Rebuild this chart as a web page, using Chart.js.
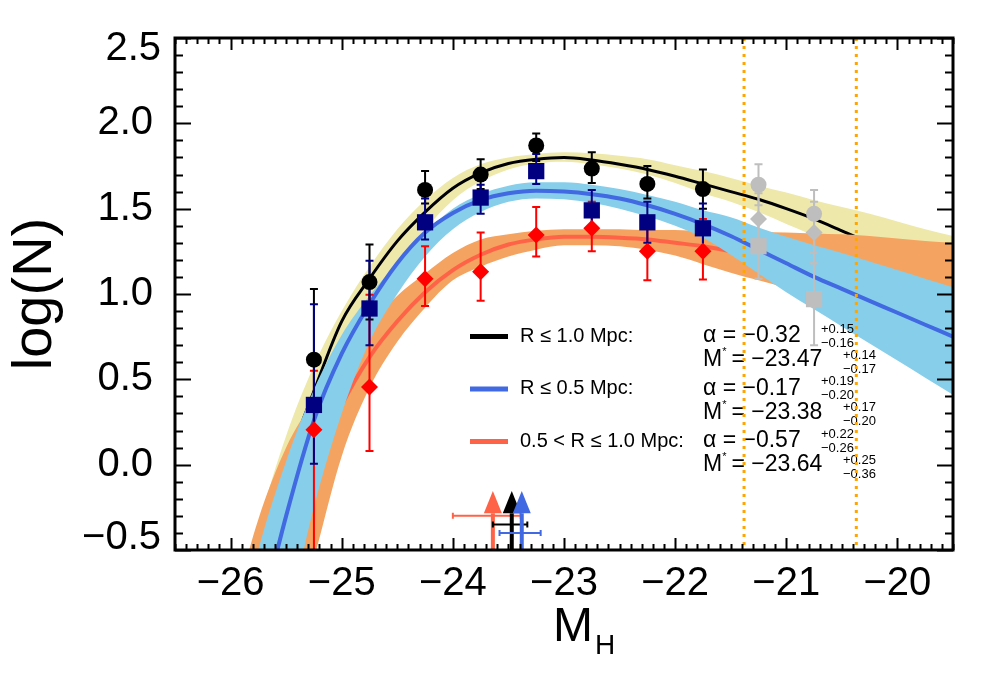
<!DOCTYPE html>
<html>
<head>
<meta charset="utf-8">
<script src="https://cdn.jsdelivr.net/npm/chart.js@4.4.1/dist/chart.umd.min.js"></script>
<style>
  html, body { margin: 0; padding: 0; background: #fff; }
  #wrap { width: 990px; height: 673px; }
</style>
</head>
<body>
<div id="wrap"><canvas id="lf"></canvas></div>
<script>
const FONT = '"Liberation Sans", Helvetica, Arial, sans-serif';

// axis ticks
const xTicks = [-26, -25, -24, -23, -22, -21, -20];
const yTicks = [-0.5, 0.0, 0.5, 1.0, 1.5, 2.0, 2.5];

// binned counts, log(N) with error bar ends
const bins = [-25.25, -24.75, -24.25, -23.75, -23.25, -22.75, -22.25, -21.75];
const allN = [0.615, 1.07, 1.61, 1.70, 1.87, 1.735, 1.645, 1.615];
const allLo = [0.20, 0.85, 1.53, 1.615, 1.78, 1.65, 1.56, 1.50];
const allHi = [1.03, 1.29, 1.72, 1.79, 1.94, 1.83, 1.75, 1.73];
const innerN = [0.35, 0.915, 1.42, 1.565, 1.72, 1.49, 1.42, 1.385];
const innerLo = [0.005, 0.70, 1.32, 1.47, 1.645, 1.38, 1.30, 1.235];
const innerHi = [0.94, 1.195, 1.56, 1.64, 1.82, 1.61, 1.54, 1.53];
const outerN = [0.205, 0.455, 1.09, 1.13, 1.345, 1.385, 1.25, 1.25];
const outerLo = [-0.7, 0.08, 0.93, 0.96, 1.22, 1.25, 1.08, 1.085];
const outerHi = [0.55, 0.995, 1.28, 1.36, 1.51, 1.54, 1.43, 1.44];

// bins fainter than the completeness limit (grey)
const faintBins = [-21.25, -20.75];
const faintAllN = [1.64, 1.47];
const faintAllLo = [1.52, 1.24];
const faintAllHi = [1.76, 1.61];
const faintInnerN = [1.28, 0.97];
const faintInnerLo = [1.09, 0.70];
const faintInnerHi = [1.45, 1.18];
const faintOuterN = [1.44, 1.36];
const faintOuterLo = [1.30, 1.18];
const faintOuterHi = [1.59, 1.54];

// fitted curves and their uncertainty bands, read along M
const fitM = [-26.0, -25.75, -25.5, -25.25, -25.0, -24.75, -24.5, -24.25, -24.0,
  -23.75, -23.5, -23.25, -23.0, -22.75, -22.5, -22.25, -22.0, -21.75, -21.5,
  -21.25, -21.0, -20.75, -20.5, -20.25, -20.0, -19.75, -19.5];
const allFit = [-1.2, -0.65, -0.02, 0.43, 0.84, 1.09, 1.31, 1.48, 1.62, 1.71, 1.765,
  1.79, 1.80, 1.785, 1.76, 1.73, 1.69, 1.645, 1.60, 1.555, 1.50, 1.44, 1.37, 1.30,
  1.23, 1.17, 1.10];
const allFitHi = [-1.0, -0.36, 0.17, 0.58, 0.90, 1.16, 1.38, 1.55, 1.68, 1.76, 1.80,
  1.82, 1.83, 1.825, 1.81, 1.79, 1.755, 1.72, 1.68, 1.635, 1.595, 1.55, 1.51, 1.47,
  1.425, 1.38, 1.34];
const allFitLo = [-1.6, -0.95, -0.38, 0.12, 0.55, 0.90, 1.18, 1.38, 1.55, 1.66, 1.73,
  1.765, 1.775, 1.76, 1.735, 1.70, 1.65, 1.59, 1.54, 1.48, 1.41, 1.34, 1.26, 1.18,
  1.10, 1.02, 0.94];
const innerFit = [-1.6, -0.95, -0.30, 0.26, 0.65, 0.94, 1.18, 1.36, 1.475, 1.55, 1.59,
  1.605, 1.60, 1.585, 1.56, 1.52, 1.47, 1.41, 1.34, 1.26, 1.18, 1.10, 1.03, 0.96,
  0.89, 0.82, 0.75];
const innerFitHi = [-1.2, -0.50, 0.02, 0.44, 0.76, 0.99, 1.18, 1.36, 1.50, 1.585, 1.635,
  1.655, 1.655, 1.64, 1.615, 1.58, 1.54, 1.49, 1.45, 1.39, 1.335, 1.285, 1.24, 1.19,
  1.14, 1.09, 1.04];
const innerFitLo = [-2.2, -1.6, -0.95, -0.25, 0.30, 0.72, 1.00, 1.22, 1.38, 1.48, 1.54,
  1.56, 1.555, 1.535, 1.50, 1.455, 1.40, 1.33, 1.23, 1.12, 1.01, 0.91, 0.81, 0.71,
  0.61, 0.51, 0.41];
const outerFit = [-1.6, -1.0, -0.45, 0.0, 0.35, 0.63, 0.84, 1.01, 1.14, 1.23, 1.29,
  1.32, 1.335, 1.335, 1.33, 1.32, 1.30, 1.28, 1.25, 1.21, 1.17, 1.13, 1.10, 1.06,
  1.03, 0.99, 0.96];
const outerFitHi = [-0.9, -0.32, 0.10, 0.38, 0.62, 0.82, 0.99, 1.12, 1.24, 1.32, 1.35,
  1.37, 1.38, 1.38, 1.38, 1.375, 1.375, 1.37, 1.37, 1.365, 1.36, 1.355, 1.35, 1.34,
  1.325, 1.31, 1.30];
const outerFitLo = [-2.6, -1.8, -1.1, -0.55, 0.05, 0.45, 0.72, 0.92, 1.08, 1.16, 1.22,
  1.26, 1.285, 1.285, 1.28, 1.26, 1.225, 1.175, 1.125, 1.08, 1.035, 0.98, 0.93, 0.88,
  0.84, 0.80, 0.75];

// fit parameters: R<=1.0, R<=0.5, 0.5<R<=1.0
const fitNames = ['R \u2264 1.0 Mpc:', 'R \u2264 0.5 Mpc:', '0.5 < R \u2264 1.0 Mpc:'];
const fitColors = ['#000000', '#4169E1', '#FF6347'];
const alpha = ['\u22120.32', '\u22120.17', '\u22120.57'];
const alphaUp = ['+0.15', '+0.19', '+0.22'];
const alphaDn = ['\u22120.16', '\u22120.20', '\u22120.26'];
const mStar = [-23.47, -23.38, -23.64];
const mStarUp = [0.14, 0.17, 0.25];
const mStarDn = [0.17, 0.20, 0.36];
const arrowBarY = [-0.35, -0.40, -0.30];

// completeness limits
const limitM = [-21.38, -20.37];

const minus = s => String(s).replace('-', '\u2212');
const curve = vals => fitM.map((m, i) => ({ x: m, y: vals[i] }));
const pts = (ms, vals) => ms.map((m, i) => ({ x: m, y: vals[i] }));

function edge(vals, order, fill, color) {
  return {
    data: curve(vals), order: order,
    borderColor: 'transparent', borderWidth: 0, pointRadius: 0,
    fill: fill ? '-1' : false, backgroundColor: color || 'transparent',
    cubicInterpolationMode: 'monotone'
  };
}
function fitLine(vals, order, color, width) {
  return {
    data: curve(vals), order: order, borderColor: color, borderWidth: width,
    pointRadius: 0, fill: false, cubicInterpolationMode: 'monotone'
  };
}
function marks(ms, vals, order, color, style, r) {
  return {
    data: pts(ms, vals), order: order, showLine: false, pointStyle: style,
    pointRadius: r, backgroundColor: color, borderColor: color,
    pointBackgroundColor: color, pointBorderColor: color, pointBorderWidth: 0
  };
}

const datasets = [
  edge(allFitLo, 20), edge(allFitHi, 19, true, '#EEE8AA'),
  fitLine(allFit, 18, '#000000', 3),
  edge(outerFitLo, 17), edge(outerFitHi, 16, true, '#F4A460'),
  fitLine(outerFit, 15, '#FF6347', 4),
  edge(innerFitLo, 14), edge(innerFitHi, 13, true, '#87CEEB'),
  fitLine(innerFit, 12, '#4169E1', 4),
  marks(faintBins, faintAllN, 11, '#BEBEBE', 'circle', 8),
  marks(faintBins, faintOuterN, 10, '#BEBEBE', 'rectRot', 8.5),
  marks(faintBins, faintInnerN, 9, '#BEBEBE', 'rect', 11.5),
  marks(bins, allN, 8, '#000000', 'circle', 8),
  marks(bins, innerN, 7, '#000080', 'rect', 11.5),
  marks(bins, outerN, 6, '#FF0000', 'rectRot', 8.5)
];

function errBars(ctx, x, y, ms, lo, hi, color) {
  ctx.strokeStyle = color;
  ctx.lineWidth = 2;
  ms.forEach((m, i) => {
    const px = x.getPixelForValue(m);
    const a = y.getPixelForValue(lo[i]);
    const b = y.getPixelForValue(hi[i]);
    ctx.beginPath();
    ctx.moveTo(px, a); ctx.lineTo(px, b);
    ctx.moveTo(px - 4, a); ctx.lineTo(px + 4, a);
    ctx.moveTo(px - 4, b); ctx.lineTo(px + 4, b);
    ctx.stroke();
  });
}

const extras = {
  id: 'extras',
  afterDatasetDraw(chart, args) {
    if (args.index !== 8) return;
    const { ctx, chartArea: a, scales: { x, y } } = chart;
    ctx.save();
    ctx.beginPath();
    ctx.rect(a.left, a.top, a.right - a.left, a.bottom - a.top);
    ctx.clip();
    errBars(ctx, x, y, faintBins, faintAllLo, faintAllHi, '#BEBEBE');
    errBars(ctx, x, y, faintBins, faintOuterLo, faintOuterHi, '#BEBEBE');
    errBars(ctx, x, y, faintBins, faintInnerLo, faintInnerHi, '#BEBEBE');
    errBars(ctx, x, y, bins, outerLo, outerHi, '#FF0000');
    errBars(ctx, x, y, bins, allLo, allHi, '#000000');
    errBars(ctx, x, y, bins, innerLo, innerHi, '#000080');
    ctx.restore();
  },
  afterDatasetsDraw(chart) {
    const { ctx, chartArea: a, scales: { x, y } } = chart;
    ctx.save();

    // legend + fit parameters
    ctx.textBaseline = 'middle';
    for (let i = 0; i < 3; i++) {
      const ly = 336 + i * 52.5;
      ctx.fillStyle = fitColors[i];
      ctx.fillRect(470, ly - 2, 38, 5);
      ctx.fillStyle = '#000';
      ctx.font = '20px ' + FONT;
      ctx.fillText(fitNames[i], 520, ly);
      ctx.font = '23px ' + FONT;
      ctx.fillText('\u03b1 = ' + alpha[i], 703, ly);
      const my = ly + 24;
      ctx.fillText('M', 703, my);
      const mw = ctx.measureText('M').width;
      ctx.fillText(' = ' + minus(mStar[i].toFixed(2)), 703 + mw + 3, my);
      ctx.font = '11px ' + FONT;
      ctx.fillText('*', 703 + mw, my - 8);
      ctx.font = '13px ' + FONT;
      ctx.fillText(alphaUp[i], 821, ly - 7);
      ctx.fillText(alphaDn[i], 821, ly + 7);
      ctx.fillText('+' + mStarUp[i].toFixed(2), 843, my - 5);
      ctx.fillText('\u2212' + mStarDn[i].toFixed(2), 843, my + 9);
    }

    // M* arrows with their errors
    [2, 0, 1].forEach(i => {
      const px = x.getPixelForValue(mStar[i]);
      const base = y.getPixelForValue(-0.5);
      const tip = y.getPixelForValue(-0.155);
      const neck = y.getPixelForValue(-0.285);
      ctx.fillStyle = fitColors[i];
      ctx.fillRect(px - 2, neck, 4, base - neck);
      ctx.beginPath();
      ctx.moveTo(px - 9, neck); ctx.lineTo(px + 9, neck); ctx.lineTo(px, tip);
      ctx.closePath();
      ctx.fill();
      const by = y.getPixelForValue(arrowBarY[i]);
      const l = x.getPixelForValue(mStar[i] - mStarDn[i]);
      const r = x.getPixelForValue(mStar[i] + mStarUp[i]);
      ctx.strokeStyle = fitColors[i];
      ctx.lineWidth = 2;
      ctx.beginPath();
      ctx.moveTo(l, by); ctx.lineTo(r, by);
      ctx.moveTo(l, by - 3); ctx.lineTo(l, by + 3);
      ctx.moveTo(r, by - 3); ctx.lineTo(r, by + 3);
      ctx.stroke();
    });

    // completeness limits
    ctx.strokeStyle = '#FFA500';
    ctx.lineWidth = 3;
    ctx.setLineDash([3, 5]);
    limitM.forEach(m => {
      const px = x.getPixelForValue(m);
      ctx.beginPath();
      ctx.moveTo(px, a.top); ctx.lineTo(px, a.bottom);
      ctx.stroke();
    });
    ctx.restore();
  },
  afterDraw(chart) {
    const { ctx, chartArea: a, scales: { x, y } } = chart;
    ctx.save();
    ctx.strokeStyle = '#000';
    ctx.lineWidth = 2;
    ctx.beginPath();
    for (let i = -265; i <= -195; i++) {
      const px = Math.round(x.getPixelForValue(i / 10)) + 0.5;
      const len = i % 10 === 0 ? 12 : 6;
      ctx.moveTo(px, a.bottom); ctx.lineTo(px, a.bottom - len);
      ctx.moveTo(px, a.top); ctx.lineTo(px, a.top + len);
    }
    for (let i = -5; i <= 25; i++) {
      const py = Math.round(y.getPixelForValue(i / 10)) + 0.5;
      const len = i % 5 === 0 ? 16 : 8;
      ctx.moveTo(a.left, py); ctx.lineTo(a.left + len, py);
      ctx.moveTo(a.right, py); ctx.lineTo(a.right - len, py);
    }
    ctx.stroke();
    ctx.lineWidth = 3;
    ctx.strokeRect(a.left, a.top, a.right - a.left, a.bottom - a.top);

    // end labels of the y axis sit inside the frame height
    ctx.fillStyle = '#000';
    ctx.font = '40px ' + FONT;
    ctx.textAlign = 'right';
    ctx.textBaseline = 'middle';
    const ends = [yTicks[yTicks.length - 1], yTicks[0]];
    ctx.fillText(minus(ends[0].toFixed(1)), a.left - 14, y.getPixelForValue(ends[0]) + 11);
    ctx.fillText(minus(ends[1].toFixed(1)), a.left - 14, y.getPixelForValue(ends[1]) - 12);

    // axis titles
    ctx.textAlign = 'left';
    ctx.textBaseline = 'alphabetic';
    ctx.font = '48px ' + FONT;
    ctx.fillText('M', 553, 641);
    ctx.font = '28px ' + FONT;
    ctx.fillText('H', 595, 654);
    ctx.translate(36, (a.top + a.bottom) / 2);
    ctx.rotate(-Math.PI / 2);
    ctx.textAlign = 'center';
    ctx.textBaseline = 'middle';
    ctx.font = '56px ' + FONT;
    ctx.fillText('log(N)', 0, 0);
    ctx.restore();
  }
};

const ctx = document.getElementById('lf').getContext('2d');

new Chart(ctx, {
  type: 'line',
  data: { datasets: datasets },
  options: {
    responsive: true,
    maintainAspectRatio: false,
    animation: false,
    events: [],
    layout: { padding: { top: 28, right: 37, left: 0, bottom: 0 } },
    plugins: { legend: { display: false }, tooltip: { enabled: false } },
    scales: {
      x: {
        type: 'linear', min: -26.5, max: -19.5,
        grid: { display: false }, border: { display: false },
        ticks: {
          autoSkip: false, maxRotation: 0,
          padding: 2, color: '#000', font: { family: FONT, size: 40 },
          callback: v => minus(v)
        },
        afterBuildTicks: s => { s.ticks = xTicks.map(v => ({ value: v })); },
        afterFit: s => { s.height = 123; }
      },
      y: {
        type: 'linear', min: -0.5, max: 2.5,
        grid: { display: false }, border: { display: false },
        ticks: {
          padding: 14, color: '#000', font: { family: FONT, size: 40 },
          callback: v => (v === yTicks[0] || v === yTicks[yTicks.length - 1]) ? '' : minus(v.toFixed(1))
        },
        afterBuildTicks: s => { s.ticks = yTicks.map(v => ({ value: v })); },
        afterFit: s => { s.width = 175; }
      }
    }
  },
  plugins: [extras]
});
</script>
</body>
</html>
